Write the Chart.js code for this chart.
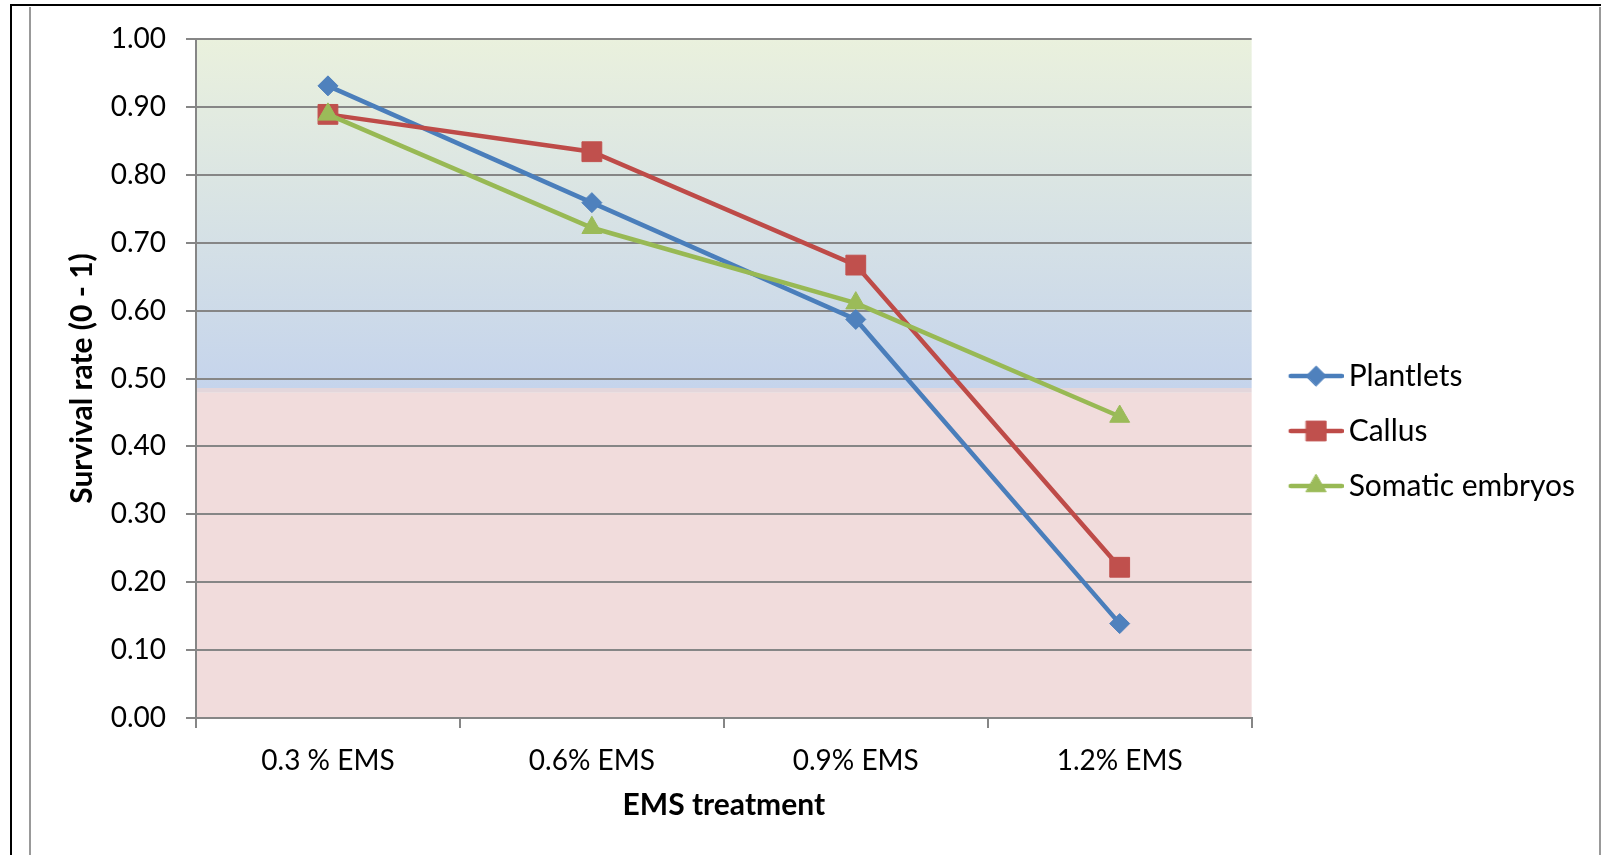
<!DOCTYPE html>
<html>
<head>
<meta charset="utf-8">
<title>Survival rate by EMS treatment</title>
<script src="https://cdn.jsdelivr.net/npm/chart.js@4.4.1/dist/chart.umd.min.js"></script>
<style>
  html, body { margin: 0; padding: 0; background: #fff; }
  #chart { display: block; }
</style>
</head>
<body>
<canvas id="chart" width="1602" height="855"></canvas>
<script>
// EMS dose groups and survival rates per explant type
const treatments = ['0.3 % EMS', '0.6% EMS', '0.9% EMS', '1.2% EMS'];
const plantlets = [0.931, 0.759, 0.587, 0.139];
const callus = [0.889, 0.834, 0.667, 0.222];
const somaticEmbryos = [0.889, 0.722, 0.611, 0.444];
const seriesNames = ['Plantlets', 'Callus', 'Somatic embryos'];

const FONT = 'Lato';
const GRID = '#868686';
const COLORS = [
  { line: '#4a7ebb', fill: '#4f81bd', style: 'rectRot', radius: 10 },
  { line: '#be4b48', fill: '#c0504d', style: 'rect', radius: 14 },
  { line: '#98b954', fill: '#9bbb59', style: 'triangle', radius: 11.5 }
];

// little "line with marker" swatch for the legend
const makeIcon = (c) => {
  const icon = document.createElement('canvas');
  icon.width = 77;
  icon.height = 28;
  const ctx = icon.getContext('2d');
  ctx.strokeStyle = c.line;
  ctx.lineWidth = 4.5;
  ctx.lineCap = 'round';
  ctx.beginPath();
  ctx.moveTo(24, 14);
  ctx.lineTo(75, 14);
  ctx.stroke();
  ctx.fillStyle = c.fill;
  ctx.strokeStyle = c.fill;
  ctx.lineWidth = 1;
  Chart.helpers.drawPoint(ctx, { pointStyle: c.style, radius: c.radius, rotation: 0, borderWidth: 1 }, 49.5, 14);
  return icon;
};

// plot background: green-to-blue gradient above ~0.48, pink below
const plotBackground = {
  id: 'plotBackground',
  beforeDraw(chart) {
    const { ctx, chartArea: a, scales: { y } } = chart;
    const split = y.getPixelForValue(0.486);
    const pinkTop = y.getPixelForValue(0.479);
    ctx.save();
    const grad = ctx.createLinearGradient(0, a.top, 0, split);
    grad.addColorStop(0, '#eaf1dd');
    grad.addColorStop(1, '#c5d4ec');
    ctx.fillStyle = grad;
    ctx.fillRect(a.left, a.top, a.width, split - a.top);
    ctx.fillStyle = '#e3d6db';
    ctx.fillRect(a.left, split, a.width, pinkTop - split);
    ctx.fillStyle = '#f1dcdc';
    ctx.fillRect(a.left, pinkTop, a.width, a.bottom - pinkTop);
    ctx.restore();
  }
};

// outer frame lines
const frame = {
  id: 'frame',
  afterDraw(chart) {
    const { ctx, height } = chart;
    ctx.save();
    ctx.strokeStyle = '#000';
    ctx.lineWidth = 2;
    ctx.beginPath();
    ctx.moveTo(11, height);
    ctx.lineTo(11, 5);
    ctx.lineTo(1601, 5);
    ctx.stroke();
    ctx.strokeStyle = '#999';
    ctx.beginPath();
    ctx.moveTo(30, 7);
    ctx.lineTo(30, height);
    ctx.moveTo(1600, 7);
    ctx.lineTo(1600, height);
    ctx.stroke();
    ctx.restore();
  }
};

const values = [plantlets, callus, somaticEmbryos];
const datasets = values.map((data, i) => ({
  label: seriesNames[i],
  data,
  borderColor: COLORS[i].line,
  backgroundColor: COLORS[i].fill,
  borderWidth: 4.5,
  pointStyle: COLORS[i].style,
  pointRadius: COLORS[i].radius,
  pointBorderColor: COLORS[i].fill,
  pointBorderWidth: 1,
  tension: 0,
  order: 3 - i
}));

const icons = COLORS.map(makeIcon);

new Chart(document.getElementById('chart'), {
  type: 'line',
  data: { labels: treatments, datasets },
  plugins: [plotBackground, frame],
  options: {
    responsive: false,
    animation: false,
    // the bottom padding also sets where the centred legend sits
    layout: { padding: { left: 40, top: 39, right: 17, bottom: 32 } },
    plugins: {
      tooltip: { enabled: false },
      legend: {
        position: 'right',
        labels: {
          usePointStyle: true,
          pointStyleWidth: 57,
          padding: 25,
          color: '#000',
          font: { family: FONT, size: 30 },
          generateLabels: (chart) => chart.data.datasets.map((ds, i) => ({
            text: ds.label,
            pointStyle: icons[i],
            datasetIndex: i,
            hidden: false,
            lineWidth: 0,
            fontColor: '#000'
          }))
        }
      }
    },
    scales: {
      x: {
        type: 'category',
        offset: true,
        grid: { offset: true, drawOnChartArea: false, color: GRID, lineWidth: 2, tickLength: 10 },
        border: { color: GRID, width: 2 },
        ticks: { color: '#000', font: { family: FONT, size: 28 }, padding: 16 },
        title: {
          display: true,
          text: 'EMS treatment',
          color: '#000',
          font: { family: FONT, size: 30, weight: 'bold' },
          padding: { top: 4, bottom: 0 }
        },
        afterFit: (s) => { s.height = 105; }
      },
      y: {
        min: 0,
        max: 1,
        ticks: {
          stepSize: 0.1,
          color: '#000',
          font: { family: FONT, size: 28 },
          padding: 20,
          callback: (v) => v.toFixed(2)
        },
        grid: { color: GRID, lineWidth: 2, tickLength: 10 },
        border: { color: GRID, width: 2 },
        title: {
          display: true,
          text: 'Survival rate (0 - 1)',
          color: '#000',
          font: { family: FONT, size: 30, weight: 'bold' },
          padding: { top: 24, bottom: 4 }
        },
        afterFit: (s) => { s.width = 156; }
      }
    }
  }
});
</script>
</body>
</html>
